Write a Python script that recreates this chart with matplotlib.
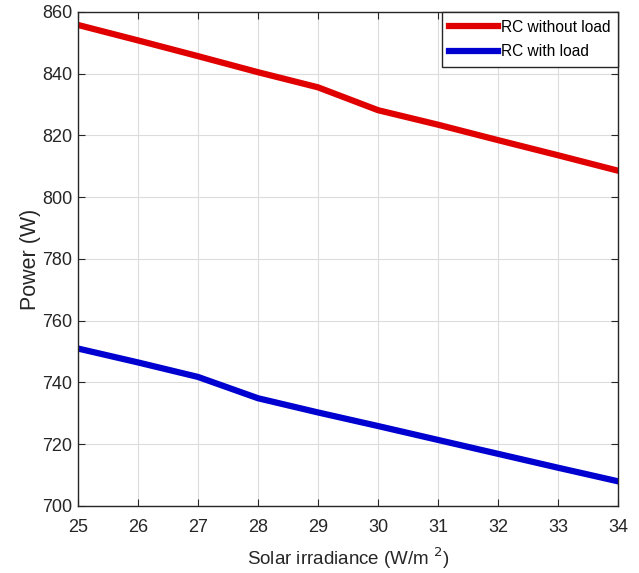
import numpy as np
import matplotlib.pyplot as plt

irradiance = [25, 26, 27, 28, 29, 30, 31, 32, 33, 34]
power_no_load = [855.8, 850.8, 845.7, 840.5, 835.6, 828.2, 823.5, 818.5, 813.6, 808.6]
power_load = [751.0, 746.5, 741.8, 734.9, 730.3, 725.9, 721.4, 716.9, 712.4, 708.0]

plt.rcParams['font.family'] = ['Liberation Sans', 'DejaVu Sans']

fig = plt.figure(figsize=(6.39, 5.73), dpi=100)
ax = fig.add_axes([78 / 639, 1 - 506 / 573, 540 / 639, 494 / 573])

ax.plot(irradiance, power_no_load, color='#e00000', lw=4.5, label='RC without load')
ax.plot(irradiance, power_load, color='#0000d0', lw=4.5, label='RC with load')

ax.set_xlim(25, 34)
ax.set_ylim(700, 860)
ax.set_xticks(np.arange(25, 35, 1))
ax.set_yticks(np.arange(700, 861, 20))
ax.grid(True, color='#dcdcdc', lw=0.8)
ax.tick_params(direction='in', top=True, right=True, length=5, colors='#262626', labelsize=13)
ax.tick_params(axis='x', pad=9)
ax.tick_params(axis='y', pad=4)
for s in ax.spines.values():
    s.set_color('#262626')
    s.set_linewidth(1.0)

ax.set_xlabel('Solar irradiance (W/m $^2$)', fontsize=13.5, color='#262626', labelpad=7)
ax.set_ylabel('Power (W)', fontsize=15.5, color='#262626', labelpad=1)

leg = ax.legend(loc='upper right', fontsize=11.2, fancybox=False, framealpha=1,
                edgecolor='#262626', handlelength=3.1, handletextpad=0.2,
                borderpad=0.5, labelspacing=0.6, borderaxespad=0.0)
leg.get_frame().set_linewidth(1.0)
for line in leg.get_lines():
    line.set_linewidth(4.5)

fig.savefig('out.png', dpi=100)
